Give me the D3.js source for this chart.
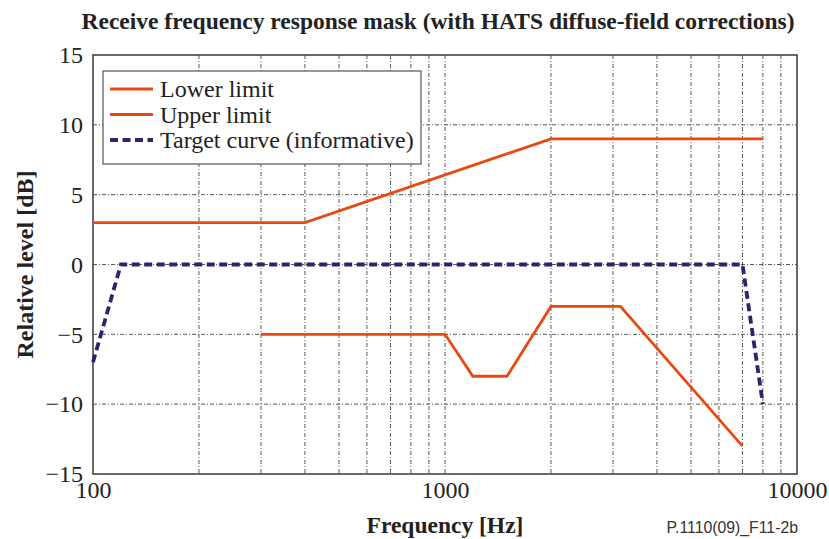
<!DOCTYPE html>
<html><head><meta charset="utf-8">
<script src="https://cdn.jsdelivr.net/npm/d3@7"></script>
<style>body{margin:0;background:#fff}svg{display:block}</style>
</head><body>
<svg id="c" width="829" height="539"></svg>
<script>
const upperFreq = [100, 400, 2000, 8000];
const upperDb   = [3, 3, 9, 9];
const lowerFreq = [300, 1000, 1200, 1500, 2000, 3150, 7000];
const lowerDb   = [-5, -5, -8, -8, -3, -3, -13];
const targetFreq = [100, 120, 7000, 8000];
const targetDb   = [-7, 0, 0, -10];
const yTicks = [-15, -10, -5, 0, 5, 10, 15];
const xTickLabels = [100, 1000, 10000];
const legendLabels = ["Lower limit", "Upper limit", "Target curve (informative)"];

const svg = d3.select("#c");
const L = 93, R = 797, T = 55, B = 474;
const x = d3.scaleLog().domain([100, 10000]).range([L, R]);
const y = d3.scaleLinear().domain([-15, 15]).range([B, T]);
const serif = "'Liberation Serif','Times New Roman',serif";
const orange = "#e8490f", navy = "#33206e";

// grid
const minor = [];
for (let d = 100; d < 10000; d *= 10) for (let k = 2; k <= 9; k++) minor.push(d * k);
minor.push(1000);
svg.append("g").selectAll("line").data(minor).join("line")
  .attr("x1", d => x(d)).attr("x2", d => x(d)).attr("y1", T).attr("y2", B)
  .attr("stroke", "#444").attr("stroke-width", 0.9).attr("stroke-dasharray", "4,2,1,2");
svg.append("g").selectAll("line").data(yTicks.slice(1, -1)).join("line")
  .attr("x1", L).attr("x2", R).attr("y1", d => y(d)).attr("y2", d => y(d))
  .attr("stroke", "#444").attr("stroke-width", 0.9).attr("stroke-dasharray", "4,2,1,2");

// frame
svg.append("rect").attr("x", L).attr("y", T).attr("width", R - L).attr("height", B - T)
  .attr("fill", "none").attr("stroke", "#444").attr("stroke-width", 1.6);

const line = d3.line().x(d => x(d[0])).y(d => y(d[1]));
const zip = (a, b) => a.map((v, i) => [v, b[i]]);
svg.append("path").attr("d", line(zip(upperFreq, upperDb))).attr("fill", "none")
  .attr("stroke", orange).attr("stroke-width", 2.8);
svg.append("path").attr("d", line(zip(lowerFreq, lowerDb))).attr("fill", "none")
  .attr("stroke", orange).attr("stroke-width", 2.8);
svg.append("path").attr("d", line(zip(targetFreq, targetDb))).attr("fill", "none")
  .attr("stroke", navy).attr("stroke-width", 3.8).attr("stroke-dasharray", "8,4.5");

// axis labels via d3 axes
const yAxis = svg.append("g").attr("transform", `translate(${L},0)`)
  .call(d3.axisLeft(y).tickValues(yTicks).tickSize(0).tickPadding(10)
    .tickFormat(d => d < 0 ? "\u2212" + Math.abs(d) : d));
yAxis.select(".domain").remove();
yAxis.selectAll("text").attr("font-family", serif).attr("font-size", 24).attr("fill", "#222");

const xAxis = svg.append("g").attr("transform", `translate(0,${B})`)
  .call(d3.axisBottom(x).tickValues(xTickLabels).tickSize(0).tickPadding(7).tickFormat(d3.format("d")));
xAxis.select(".domain").remove();
xAxis.selectAll("text").attr("font-family", serif).attr("font-size", 24).attr("fill", "#222");

// titles
svg.append("text").attr("x", 438).attr("y", 29).attr("text-anchor", "middle")
  .attr("font-family", serif).attr("font-weight", "bold").attr("font-size", 23.5).attr("fill", "#222")
  .text("Receive frequency response mask (with HATS diffuse-field corrections)");
svg.append("text").attr("x", 445).attr("y", 533).attr("text-anchor", "middle")
  .attr("font-family", serif).attr("font-weight", "bold").attr("font-size", 23.5).attr("fill", "#222")
  .text("Frequency [Hz]");
svg.append("text").attr("transform", `translate(33,${y(0)}) rotate(-90)`).attr("text-anchor", "middle")
  .attr("font-family", serif).attr("font-weight", "bold").attr("font-size", 24).attr("fill", "#222")
  .text("Relative level [dB]");
svg.append("text").attr("x", 798).attr("y", 533).attr("text-anchor", "end")
  .attr("font-family", "'Liberation Sans',Arial,sans-serif").attr("font-size", 15.8).attr("fill", "#333")
  .text("P.1110(09)_F11-2b");

// legend
const lg = svg.append("g");
lg.append("rect").attr("x", 103).attr("y", 71).attr("width", 318).attr("height", 93)
  .attr("fill", "#fff").attr("stroke", "#555").attr("stroke-width", 1.2);
const styles = [{c: orange, w: 2.8, da: null}, {c: orange, w: 2.8, da: null}, {c: navy, w: 3.8, da: "8,4.5"}];
legendLabels.forEach((t, i) => {
  const yy = 89 + i * 25.5;
  lg.append("line").attr("x1", 110).attr("x2", 153).attr("y1", yy).attr("y2", yy)
    .attr("stroke", styles[i].c).attr("stroke-width", styles[i].w).attr("stroke-dasharray", styles[i].da);
  lg.append("text").attr("x", 160).attr("y", yy + 8).attr("font-family", serif).attr("font-size", 24)
    .attr("fill", "#222").text(t);
});
</script>
</body></html>
